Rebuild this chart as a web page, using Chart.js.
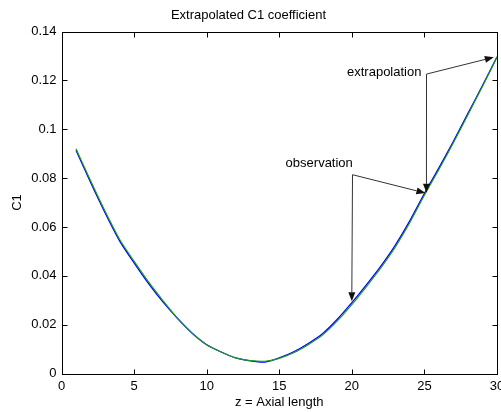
<!DOCTYPE html>
<html>
<head>
<meta charset="utf-8">
<script src="https://cdn.jsdelivr.net/npm/chart.js@4.4.0/dist/chart.umd.min.js"></script>
<style>
  html, body { margin: 0; padding: 0; background: #fff; overflow: hidden; }
  #wrap { width: 501px; height: 412px; }
</style>
</head>
<body>
<div id="wrap"><canvas id="c1Chart"></canvas></div>
<script>
// values
const zValues = [1, 2, 3, 4, 5, 6, 7, 8, 9, 10, 11, 12, 13, 14, 15,
                 16, 17, 18, 19, 20, 21, 22, 23, 24, 25, 26, 27, 28, 29, 30];
const c1Green = [0.0920, 0.0790, 0.0665, 0.0550, 0.0460, 0.0375, 0.0298, 0.0225, 0.0165, 0.0118,
                 0.0088, 0.0064, 0.0053, 0.0050, 0.0062, 0.0085, 0.0118, 0.0158, 0.0215, 0.0282,
                 0.0355, 0.0432, 0.0518, 0.0618, 0.0730, 0.0835, 0.0945, 0.1060, 0.1175, 0.1295];
const c1Blue  = [0.0914, 0.0783, 0.0658, 0.0543, 0.0453, 0.0368, 0.0292, 0.0225, 0.0165, 0.0118,
                 0.0088, 0.0064, 0.0052, 0.0047, 0.0064, 0.0089, 0.0123, 0.0164, 0.0222, 0.0290,
                 0.0363, 0.0440, 0.0526, 0.0626, 0.0737, 0.0842, 0.0951, 0.1065, 0.1179, 0.1297];
const xTicks = [0, 5, 10, 15, 20, 25, 30];
const yTicks = [0, 0.02, 0.04, 0.06, 0.08, 0.1, 0.12, 0.14];

// annotation arrows, in data units: label, elbow point, arrow tips
const notes = [
  { text: "extrapolation", at: [25.14, 0.1226], tips: [[29.78, 0.1295], [25.14, 0.0740]], dx: -5, dy: -2 },
  { text: "observation",   at: [20.0, 0.0814],  tips: [[25.07, 0.0739], [20.0, 0.0296]],  dx: 1,  dy: -11 }
];

const FONT = "'Liberation Sans', Arial, Helvetica, sans-serif";
Chart.defaults.color = "#000";
Chart.defaults.font.family = FONT;
Chart.defaults.font.size = 13;

function toPoints(ys) {
  return zValues.map((z, i) => ({ x: z, y: ys[i] }));
}

// MATLAB style box with inward ticks, plus the arrows
const boxPlugin = {
  id: "boxPlugin",
  afterDraw(chart) {
    const ctx = chart.ctx;
    const a = chart.chartArea;
    const xs = chart.scales.x, ys = chart.scales.y;
    const L = Math.round(a.left) + 0.5, R = Math.round(a.right) + 0.5;
    const T = Math.round(a.top) + 0.5, B = Math.round(a.bottom) + 0.5;
    ctx.save();
    ctx.strokeStyle = "#000";
    ctx.lineWidth = 1;
    ctx.strokeRect(L, T, R - L, B - T);
    ctx.beginPath();
    xTicks.forEach((v) => {
      const px = Math.round(xs.getPixelForValue(v)) + 0.5;
      ctx.moveTo(px, B); ctx.lineTo(px, B - 5);
      ctx.moveTo(px, T); ctx.lineTo(px, T + 5);
    });
    yTicks.forEach((v) => {
      const py = Math.round(ys.getPixelForValue(v)) + 0.5;
      ctx.moveTo(L, py); ctx.lineTo(L + 5, py);
      ctx.moveTo(R, py); ctx.lineTo(R - 5, py);
    });
    ctx.stroke();

    // arrows
    ctx.strokeStyle = "#333";
    ctx.fillStyle = "#111";
    notes.forEach((n) => {
      const ax = xs.getPixelForValue(n.at[0]), ay = ys.getPixelForValue(n.at[1]);
      n.tips.forEach((t) => {
        const tx = xs.getPixelForValue(t[0]), ty = ys.getPixelForValue(t[1]);
        const ang = Math.atan2(ty - ay, tx - ax);
        const hl = 9, hw = 3.5;
        const bx = tx - hl * Math.cos(ang), by = ty - hl * Math.sin(ang);
        ctx.beginPath();
        ctx.moveTo(Math.round(ax) + 0.5, ay);
        ctx.lineTo(bx, by);
        ctx.stroke();
        ctx.beginPath();
        ctx.moveTo(tx, ty);
        ctx.lineTo(bx + hw * Math.sin(ang), by - hw * Math.cos(ang));
        ctx.lineTo(bx - hw * Math.sin(ang), by + hw * Math.cos(ang));
        ctx.closePath();
        ctx.fill();
      });
      ctx.fillStyle = "#000";
      ctx.font = "13px " + FONT;
      ctx.textAlign = "right";
      ctx.textBaseline = "middle";
      ctx.fillText(n.text, ax + n.dx, ay + n.dy);
      ctx.fillStyle = "#111";
    });
    ctx.restore();
  }
};

new Chart(document.getElementById("c1Chart"), {
  type: "line",
  data: {
    datasets: [
      {
        label: "C1 extrapolated",
        data: toPoints(c1Green),
        borderColor: "#1c9a1c",
        borderWidth: 1.1,
        pointRadius: 0,
        tension: 0.25,
        fill: false
      },
      {
        label: "C1 observed",
        data: toPoints(c1Blue),
        borderColor: "#0000ff",
        borderWidth: 1.3,
        pointRadius: 0,
        tension: 0.25,
        fill: false
      }
    ]
  },
  options: {
    responsive: true,
    maintainAspectRatio: false,
    animation: false,
    layout: { padding: { left: 0, right: 4, top: 0, bottom: 0 } },
    plugins: {
      legend: { display: false },
      tooltip: { enabled: false },
      title: {
        display: true,
        text: "Extrapolated C1 coefficient",
        font: { size: 13, weight: "normal" },
        padding: { top: 8, bottom: 8 }
      }
    },
    scales: {
      x: {
        type: "linear",
        min: 0,
        max: 30,
        afterBuildTicks: (axis) => { axis.ticks = xTicks.map((v) => ({ value: v })); },
        afterFit: (axis) => {
          axis.height = 38.5;
          axis.paddingLeft = 0;
          axis.paddingRight = 0;
        },
        grid: { display: false, drawTicks: false },
        border: { display: false },
        ticks: { padding: 5, maxRotation: 0, callback: (v) => String(v) },
        title: { display: true, text: "z = Axial length", padding: { top: 0, bottom: 1.5 } }
      },
      y: {
        type: "linear",
        min: 0,
        max: 0.14,
        afterBuildTicks: (axis) => { axis.ticks = yTicks.map((v) => ({ value: v })); },
        afterFit: (axis) => {
          axis.width = 61.5;
          axis.paddingTop = 0;
          axis.paddingBottom = 0;
        },
        grid: { display: false, drawTicks: false },
        border: { display: false },
        ticks: { padding: 5, callback: (v) => String(v) },
        title: { display: true, text: "C1", padding: { top: 10, bottom: 0 } }
      }
    }
  },
  plugins: [boxPlugin]
});
</script>
</body>
</html>
